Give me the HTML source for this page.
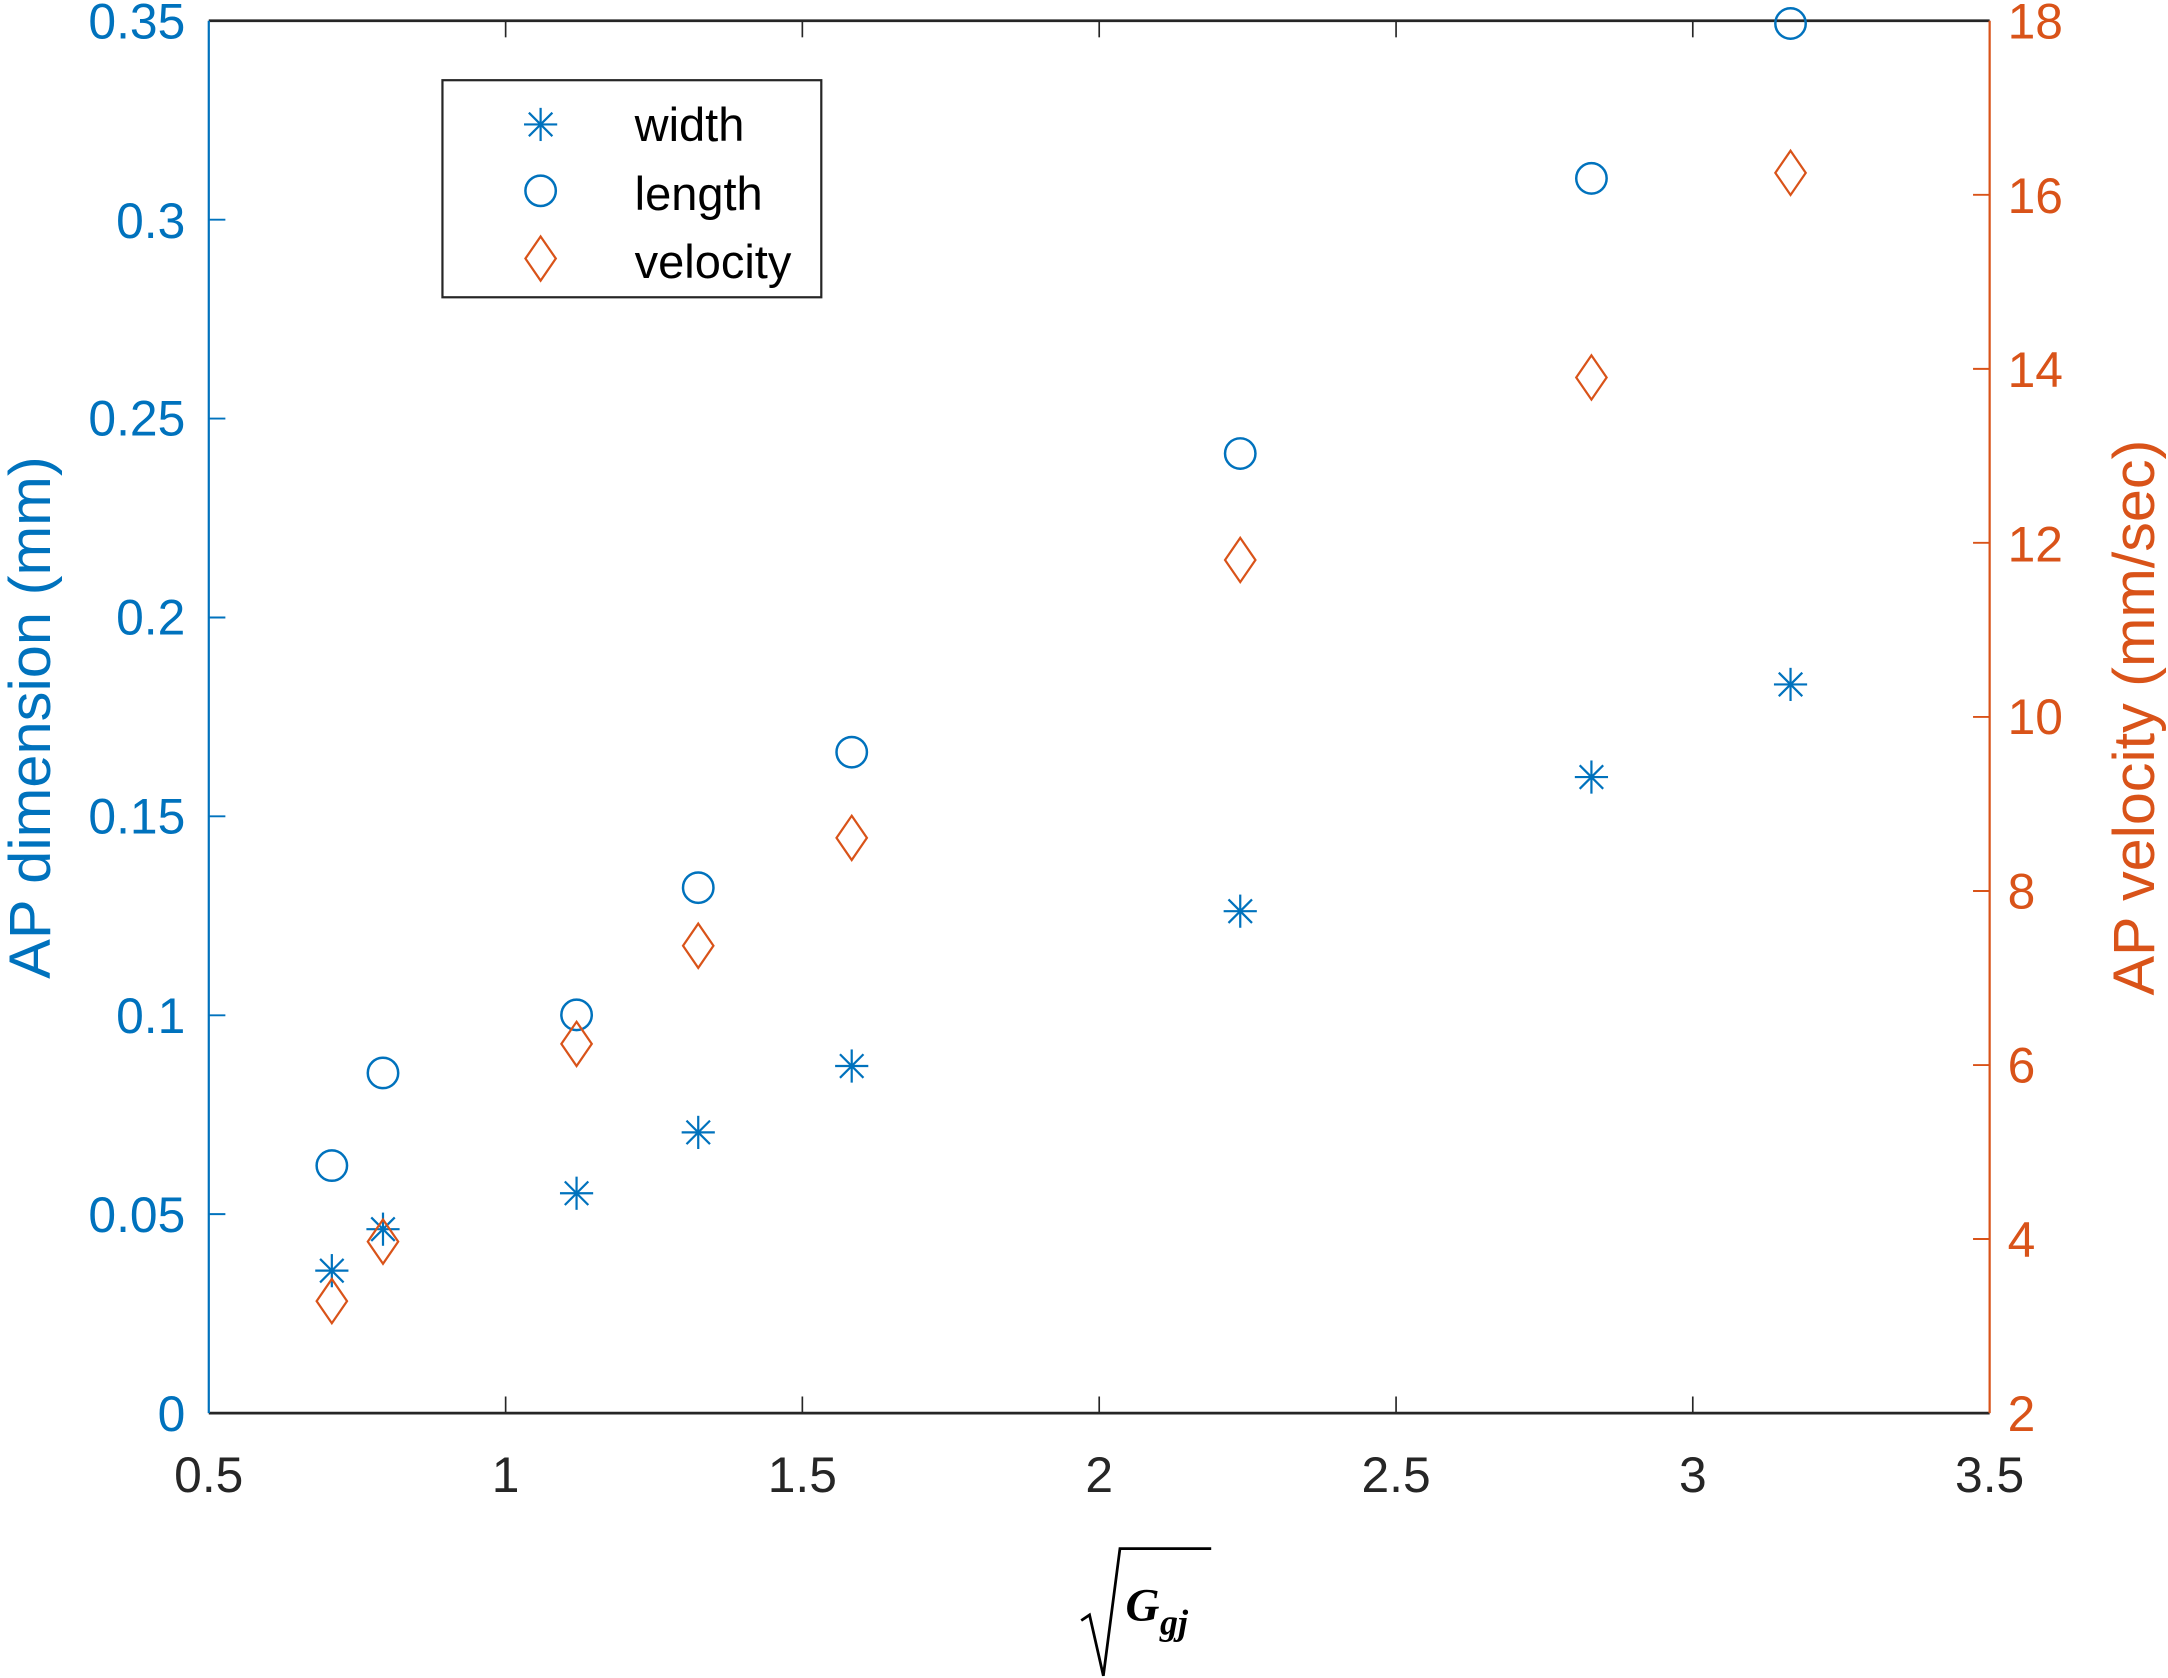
<!DOCTYPE html>
<html><head><meta charset="utf-8"><style>html,body{margin:0;padding:0;background:#fff}svg{display:block}</style></head>
<body>
<svg width="2168" height="1678" viewBox="0 0 1568 1213.6" xmlns="http://www.w3.org/2000/svg" font-family="Liberation Sans, sans-serif">
<defs>
<g id="ast" stroke="#0072BD" stroke-width="1.6" fill="none"><line x1="-12" y1="0" x2="12" y2="0"/><line x1="0" y1="-12" x2="0" y2="12"/><line x1="-8.5" y1="-8.5" x2="8.5" y2="8.5"/><line x1="-8.5" y1="8.5" x2="8.5" y2="-8.5"/></g>
<circle id="cir" r="11" stroke="#0072BD" stroke-width="1.8" fill="none"/>
<path id="dia" d="M0,-16 L11,0 L0,16 L-11,0 Z" stroke="#D95319" stroke-width="1.6" fill="none"/>
</defs>
<line x1="151" y1="15" x2="1439" y2="15" stroke="#262626" stroke-width="2"/>
<line x1="151" y1="1022" x2="1439" y2="1022" stroke="#262626" stroke-width="2"/>
<line x1="151" y1="15" x2="151" y2="1022" stroke="#0072BD" stroke-width="1.6"/>
<line x1="1439" y1="15" x2="1439" y2="1022" stroke="#D95319" stroke-width="1.6"/>
<g stroke="#262626" stroke-width="1.2">
<line x1="365.7" y1="1022" x2="365.7" y2="1010"/><line x1="580.3" y1="1022" x2="580.3" y2="1010"/><line x1="795" y1="1022" x2="795" y2="1010"/><line x1="1009.7" y1="1022" x2="1009.7" y2="1010"/><line x1="1224.3" y1="1022" x2="1224.3" y2="1010"/>
<line x1="365.7" y1="15" x2="365.7" y2="27"/><line x1="580.3" y1="15" x2="580.3" y2="27"/><line x1="795" y1="15" x2="795" y2="27"/><line x1="1009.7" y1="15" x2="1009.7" y2="27"/><line x1="1224.3" y1="15" x2="1224.3" y2="27"/>
</g>
<g stroke="#0072BD" stroke-width="1.4">
<line x1="151" y1="878.1" x2="163" y2="878.1"/><line x1="151" y1="734.3" x2="163" y2="734.3"/><line x1="151" y1="590.4" x2="163" y2="590.4"/><line x1="151" y1="446.6" x2="163" y2="446.6"/><line x1="151" y1="302.7" x2="163" y2="302.7"/><line x1="151" y1="158.9" x2="163" y2="158.9"/>
</g>
<g stroke="#D95319" stroke-width="1.4">
<line x1="1427" y1="896.1" x2="1439" y2="896.1"/><line x1="1427" y1="770.3" x2="1439" y2="770.3"/><line x1="1427" y1="644.4" x2="1439" y2="644.4"/><line x1="1427" y1="518.5" x2="1439" y2="518.5"/><line x1="1427" y1="392.6" x2="1439" y2="392.6"/><line x1="1427" y1="266.8" x2="1439" y2="266.8"/><line x1="1427" y1="140.9" x2="1439" y2="140.9"/>
</g>
<g fill="#0072BD" font-size="36" text-anchor="end">
<text x="134" y="1035">0</text><text x="134" y="891">0.05</text><text x="134" y="747">0.1</text><text x="134" y="603">0.15</text><text x="134" y="459">0.2</text><text x="134" y="315">0.25</text><text x="134" y="172">0.3</text><text x="134" y="28">0.35</text>
</g>
<g fill="#D95319" font-size="36" text-anchor="start">
<text x="1452" y="1035">2</text><text x="1452" y="909">4</text><text x="1452" y="783">6</text><text x="1452" y="657">8</text><text x="1452" y="531">10</text><text x="1452" y="406">12</text><text x="1452" y="280">14</text><text x="1452" y="154">16</text><text x="1452" y="28">18</text>
</g>
<g fill="#262626" font-size="36" text-anchor="middle">
<text x="151" y="1079">0.5</text><text x="365.7" y="1079">1</text><text x="580.3" y="1079">1.5</text><text x="795" y="1079">2</text><text x="1009.7" y="1079">2.5</text><text x="1224.3" y="1079">3</text><text x="1439" y="1079">3.5</text>
</g>
<text transform="translate(36,519) rotate(-90)" text-anchor="middle" font-size="42" fill="#0072BD" textLength="378" lengthAdjust="spacingAndGlyphs">AP dimension (mm)</text>
<text transform="translate(1558,519) rotate(-90)" text-anchor="middle" font-size="42" fill="#D95319" textLength="402" lengthAdjust="spacingAndGlyphs">AP velocity (mm/sec)</text>
<path d="M782,1172 L788,1168 L798,1212 L810,1120 L876,1120" stroke="#000" stroke-width="2" fill="none"/>
<text x="814" y="1172" font-family="Liberation Serif, serif" font-weight="bold" font-style="italic" font-size="34">G</text>
<text x="839" y="1182" font-family="Liberation Serif, serif" font-weight="bold" font-style="italic" font-size="26">gj</text>
<use href="#ast" x="240" y="919"/><use href="#ast" x="277" y="889"/><use href="#ast" x="417" y="863"/><use href="#ast" x="505" y="819"/><use href="#ast" x="616" y="771"/><use href="#ast" x="897" y="659"/><use href="#ast" x="1151" y="562"/><use href="#ast" x="1295" y="495"/>
<use href="#cir" x="240" y="843"/><use href="#cir" x="277" y="776"/><use href="#cir" x="417" y="734"/><use href="#cir" x="505" y="642"/><use href="#cir" x="616" y="544"/><use href="#cir" x="897" y="328"/><use href="#cir" x="1151" y="129"/><use href="#cir" x="1295" y="17"/>
<use href="#dia" x="240" y="941"/><use href="#dia" x="277" y="898"/><use href="#dia" x="417" y="755"/><use href="#dia" x="505" y="684"/><use href="#dia" x="616" y="606"/><use href="#dia" x="897" y="405"/><use href="#dia" x="1151" y="273"/><use href="#dia" x="1295" y="125"/>
<rect x="320" y="58" width="274" height="157" fill="#fff" stroke="#262626" stroke-width="1.6"/>
<use href="#ast" x="391" y="90"/><use href="#cir" x="391" y="138"/><use href="#dia" x="391" y="187"/>
<g font-size="34" fill="#000"><text x="459" y="102">width</text><text x="459" y="152">length</text><text x="459" y="201">velocity</text></g>
</svg>
</body></html>
